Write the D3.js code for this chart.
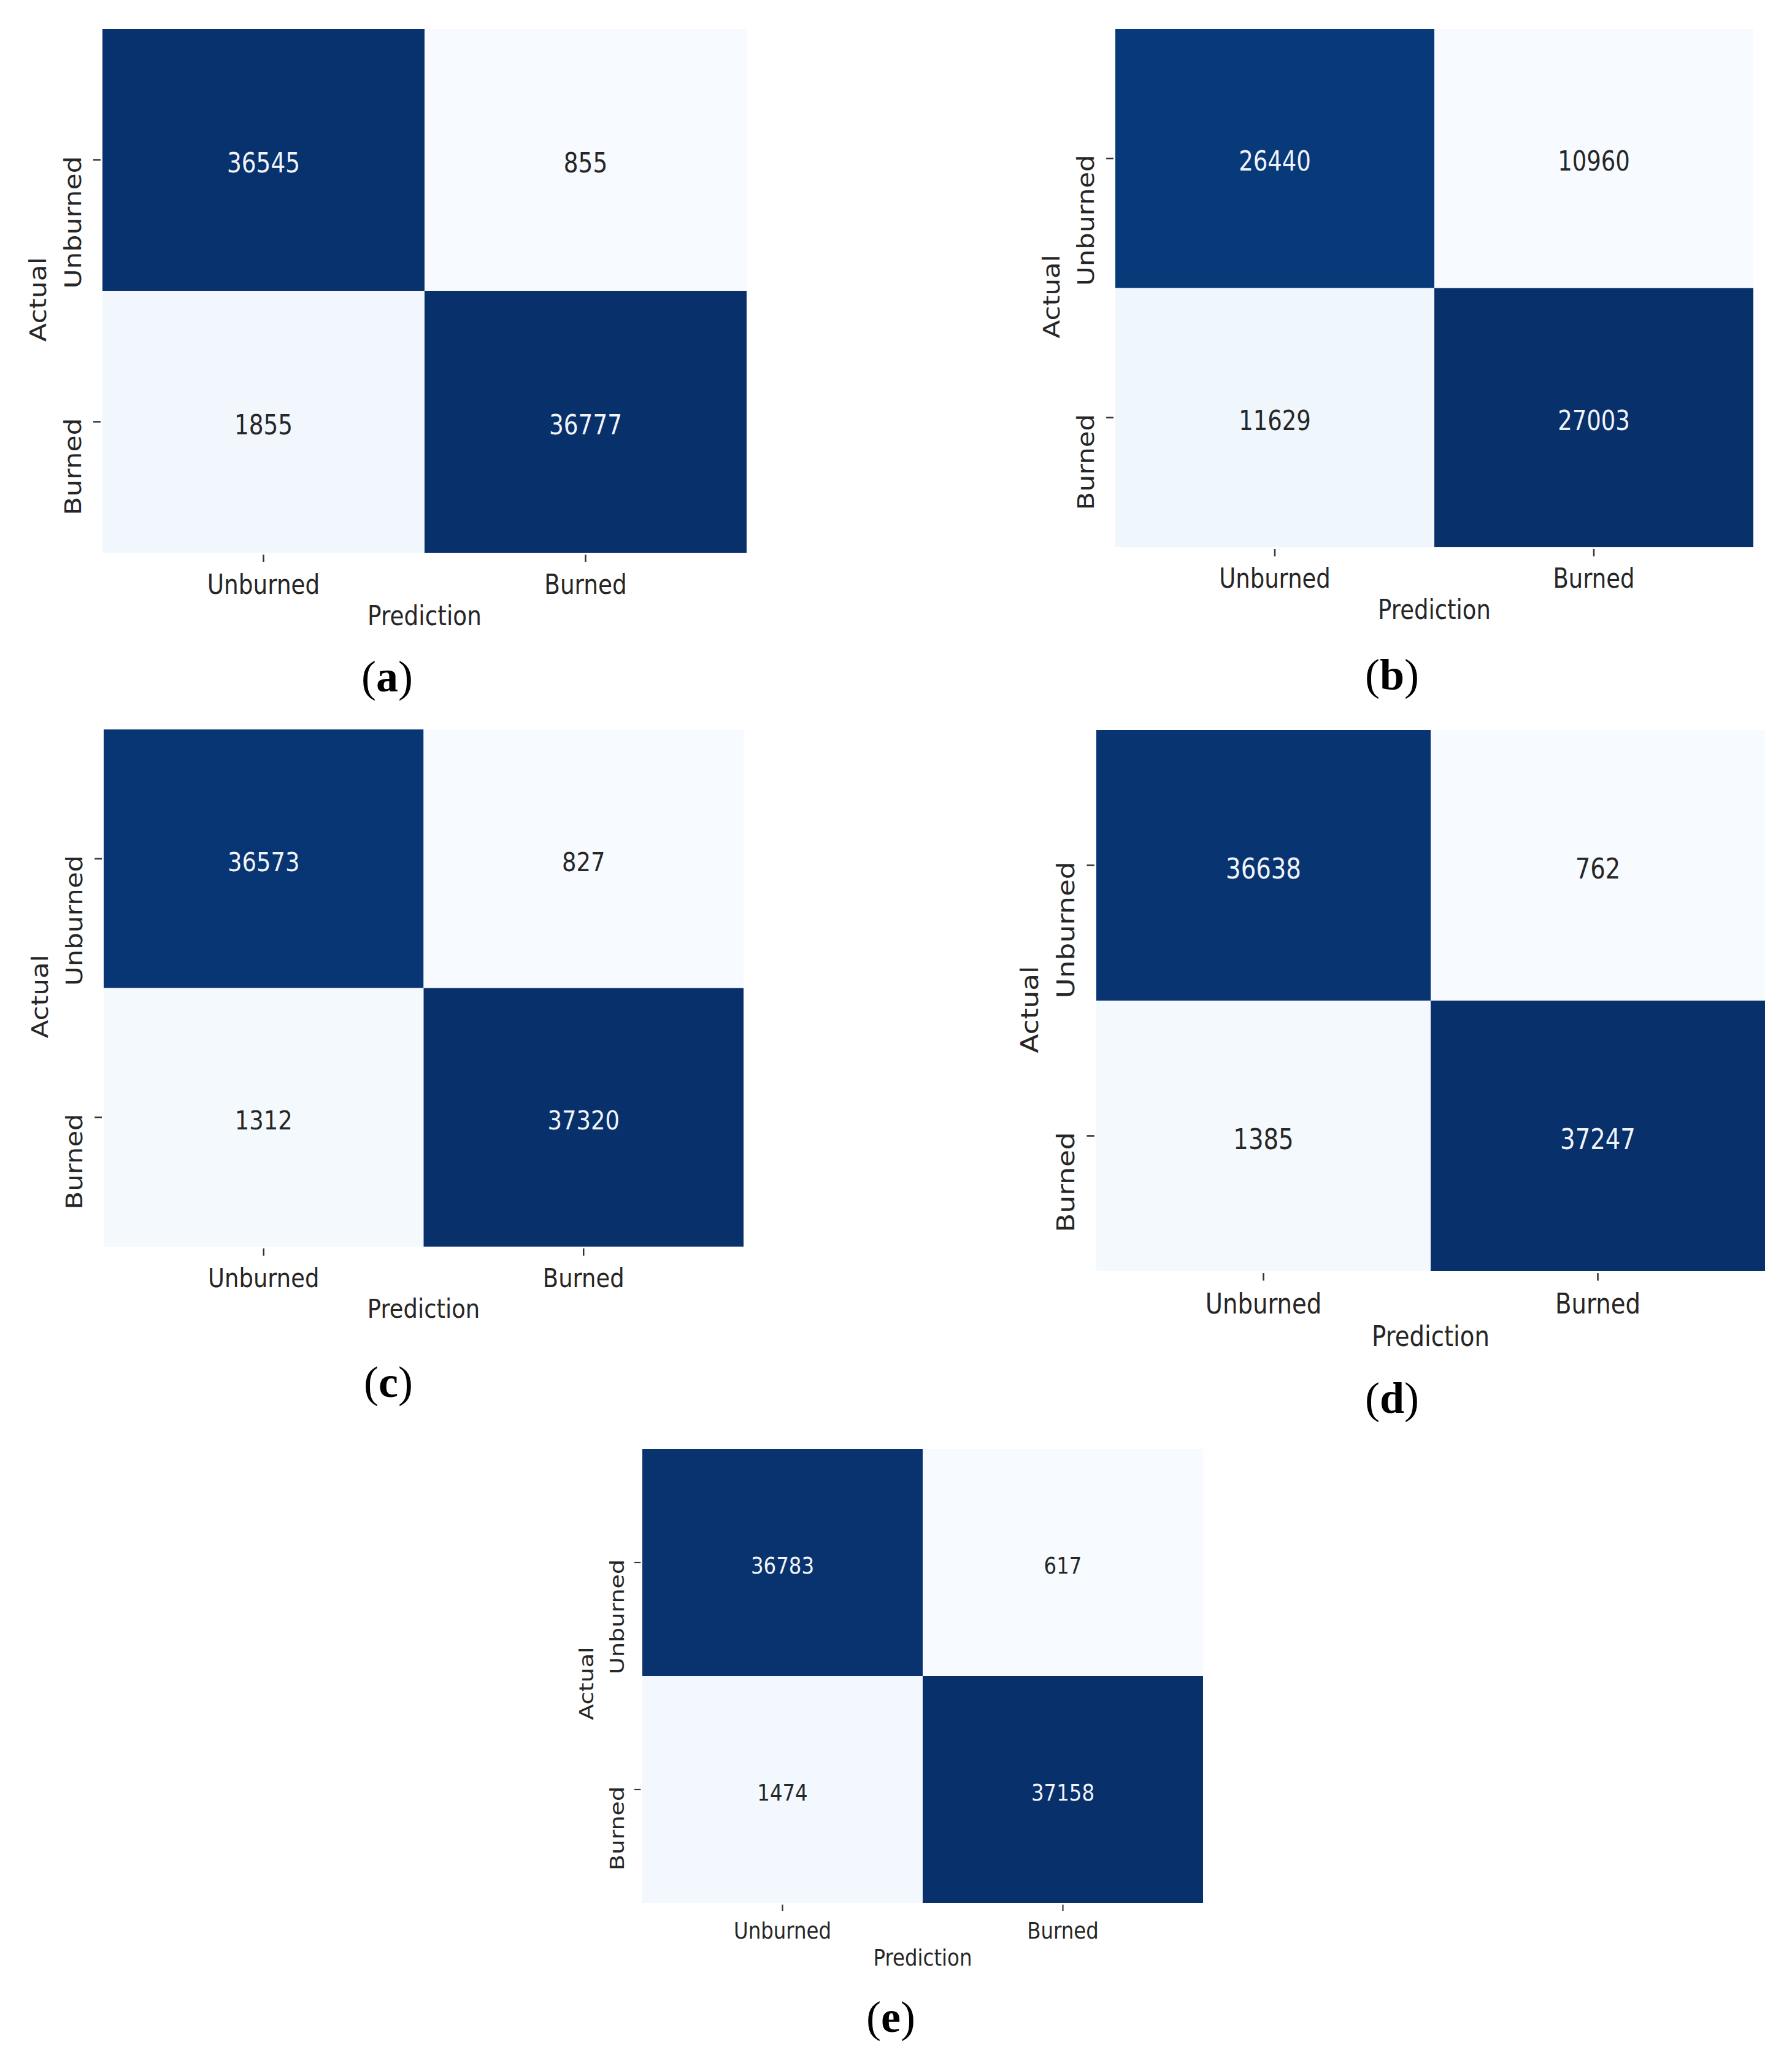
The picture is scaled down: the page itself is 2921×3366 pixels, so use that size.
<!DOCTYPE html>
<html>
<head>
<meta charset="utf-8">
<script src="https://cdn.jsdelivr.net/npm/d3@7"></script>
<style>
  body { margin: 0; background: #fff; }
  svg { display: block; }
</style>
</head>
<body>
<script>
// class names on both axes
var classes = ["Unburned", "Burned"];

// confusion matrices, rows = actual, columns = prediction
var matrixA = [[36545, 855], [1855, 36777]];
var matrixB = [[26440, 10960], [11629, 27003]];
var matrixC = [[36573, 827], [1312, 37320]];
var matrixD = [[36638, 762], [1385, 37247]];
var matrixE = [[36783, 617], [1474, 37158]];

var panelNames = ["a", "b", "c", "d", "e"];
var matrices = [matrixA, matrixB, matrixC, matrixD, matrixE];

// where each heatmap box sits on the page, and where its (x) caption goes
var layout = [
  { left: 167, top: 47, right: 1217, bottom: 901, capX: 631, capY: 1127 },
  { left: 1818, top: 47, right: 2858, bottom: 892, capX: 2269, capY: 1124 },
  { left: 169, top: 1189, right: 1212, bottom: 2032, capX: 633, capY: 2277 },
  { left: 1787, top: 1190, right: 2877, bottom: 2072, capX: 2269, capY: 2303 },
  { left: 1047, top: 2362, right: 1961, bottom: 3102, capX: 1452, capY: 3312 }
];

var sx = 0.85; // the heatmap images are slightly squeezed horizontally
var textColor = "#262626";

var svg = d3.select("body").append("svg")
  .attr("width", 2921)
  .attr("height", 3366)
  .style("background", "#fff");

panelNames.forEach(function(name, p) {
  var box = layout[p];
  var m = matrices[p];
  var w = box.right - box.left;
  var h = box.bottom - box.top;
  var k = h / 854; // size relative to panel (a)
  var fs = 44 * k;

  var cells = [];
  m.forEach(function(row, i) {
    row.forEach(function(v, j) {
      cells.push({ actual: classes[i], pred: classes[j], value: v });
    });
  });

  var x = d3.scaleBand().domain(classes).range([0, w]);
  var y = d3.scaleBand().domain(classes).range([0, h]);
  var color = d3.scaleSequential(d3.interpolateBlues)
    .domain(d3.extent(cells, function(d) { return d.value; }));

  var g = svg.append("g")
    .attr("transform", "translate(" + box.left + "," + box.top + ")");

  // cells
  g.selectAll("rect")
    .data(cells)
    .enter()
    .append("rect")
    .attr("x", function(d) { return x(d.pred); })
    .attr("y", function(d) { return y(d.actual); })
    .attr("width", x.bandwidth())
    .attr("height", y.bandwidth())
    .attr("fill", function(d) { return color(d.value); });

  // annotations
  var mid = d3.mean(color.domain());
  g.selectAll("text.annot")
    .data(cells)
    .enter()
    .append("text")
    .attr("class", "annot")
    .attr("transform", function(d) {
      return "translate(" + (x(d.pred) + x.bandwidth() / 2) + "," +
        (y(d.actual) + y.bandwidth() / 2 + 5 * k) + ") scale(" + sx + ",1)";
    })
    .attr("text-anchor", "middle")
    .attr("dy", "0.35em")
    .style("font-family", "'DejaVu Sans', sans-serif")
    .style("font-size", fs + "px")
    .attr("fill", function(d) { return d.value > mid ? "#f2f4f8" : textColor; })
    .text(function(d) { return d.value; });

  // x axis
  var xAxis = g.append("g")
    .attr("transform", "translate(0," + (h + 3 * k) + ")")
    .call(d3.axisBottom(x).tickSize(12 * k).tickPadding(0));
  xAxis.select(".domain").remove();
  xAxis.selectAll("line").attr("stroke", "#333").attr("stroke-width", 2.5 * k);
  xAxis.selectAll("text")
    .attr("y", null)
    .attr("dy", null)
    .attr("transform", "translate(0," + (64 * k) + ") scale(" + sx + ",1)")
    .attr("fill", textColor)
    .style("font-family", "'DejaVu Sans', sans-serif")
    .style("font-size", fs + "px");

  // y axis
  var yAxis = g.append("g")
    .attr("transform", "translate(" + (-3 * k) + ",0)")
    .call(d3.axisLeft(y).tickSize(12 * k).tickPadding(0));
  yAxis.select(".domain").remove();
  yAxis.selectAll("line").attr("stroke", "#333").attr("stroke-width", 2.5 * k);
  yAxis.selectAll("text")
    .attr("x", null)
    .attr("dy", null)
    .attr("text-anchor", "end")
    .attr("transform", "translate(" + (-32 * k) + "," + (-6 * k) + ") rotate(-90) scale(1," + sx + ")")
    .attr("fill", textColor)
    .style("font-family", "'DejaVu Sans', sans-serif")
    .style("font-size", fs + "px");

  // axis titles
  g.append("text")
    .attr("transform", "translate(" + (w / 2) + "," + (h + 118 * k) + ") scale(" + sx + ",1)")
    .attr("text-anchor", "middle")
    .attr("fill", textColor)
    .style("font-family", "'DejaVu Sans', sans-serif")
    .style("font-size", fs + "px")
    .text("Prediction");

  g.append("text")
    .attr("transform", "translate(" + (-92 * k) + "," + (h / 2 + 14 * k) + ") rotate(-90) scale(1," + sx + ")")
    .attr("text-anchor", "middle")
    .attr("fill", textColor)
    .style("font-family", "'DejaVu Sans', sans-serif")
    .style("font-size", fs + "px")
    .text("Actual");

  // panel caption
  var cap = svg.append("text")
    .attr("x", box.capX)
    .attr("y", box.capY)
    .attr("text-anchor", "middle")
    .attr("fill", "#000")
    .style("font-family", "'Liberation Serif', serif")
    .style("font-size", "72px");
  cap.append("tspan").text("(");
  cap.append("tspan").style("font-weight", "bold").text(name);
  cap.append("tspan").text(")");
});
</script>
</body>
</html>
